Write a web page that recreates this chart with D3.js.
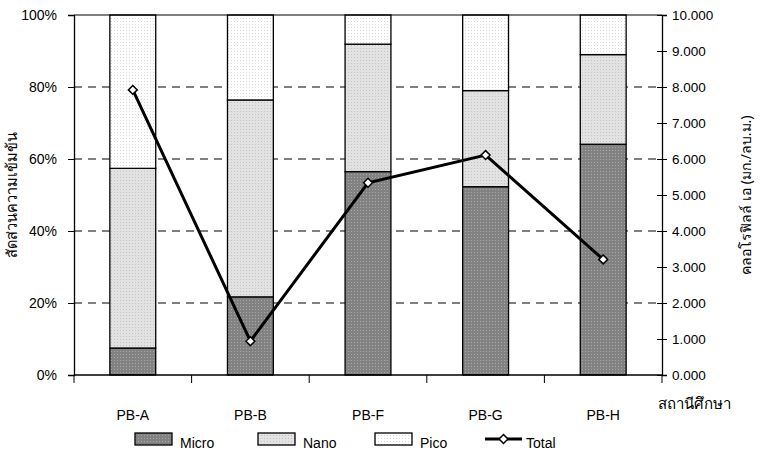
<!DOCTYPE html>
<html><head><meta charset="utf-8">
<script src="https://cdn.jsdelivr.net/npm/d3@7"></script>
<style>
body{margin:0;background:#fff;}
svg{display:block;font-family:"Liberation Sans",Arial,sans-serif;}
</style></head>
<body><svg id="c" width="761" height="454"></svg>
<script>
const categories = ["PB-A","PB-B","PB-F","PB-G","PB-H"];
const micro = [7.5, 21.7, 56.5, 52.3, 64.1];
const nano  = [49.9, 54.7, 35.4, 26.7, 24.9];
const pico  = [42.6, 23.6, 8.1, 21.0, 11.0];
const total = [7.92, 0.94, 5.34, 6.11, 3.21];
const leftTicks = [0,20,40,60,80,100];
const rightTicks = [0,1,2,3,4,5,6,7,8,9,10];
const seriesNames = ["Micro","Nano","Pico"];

const svg = d3.select("#c");
const L=74, R=662, T=15, B=375;
const FONT = "Liberation Sans, Arial, sans-serif";

const defs = svg.append("defs");
function pat(id, base, dot){
  const p = defs.append("pattern").attr("id",id).attr("patternUnits","userSpaceOnUse").attr("width",3).attr("height",3);
  p.append("rect").attr("width",3).attr("height",3).attr("fill",base);
  p.append("rect").attr("width",1).attr("height",1).attr("fill",dot);
  return "url(#"+id+")";
}
const fills = {
  Micro: pat("pm","#828282","#a8a8a8"),
  Nano: pat("pn","#e2e2e2","#c4c4c4"),
  Pico: pat("pp","#ffffff","#d8d8d8")
};

const x = d3.scaleBand().domain(categories).range([L,R]).paddingInner(0.61).paddingOuter(0.305);
const y = d3.scaleLinear().domain([0,100]).range([B,T]);
const y2 = d3.scaleLinear().domain([0,10]).range([B,T]);

// gridlines
svg.append("g").selectAll("line").data(leftTicks.filter(d=>d>0&&d<100)).join("line")
  .attr("x1",L).attr("x2",R).attr("y1",d=>y(d)).attr("y2",d=>y(d))
  .attr("stroke","#000").attr("stroke-width",1).attr("stroke-dasharray","8,6");

// stacked bars
const rows = categories.map((c,i)=>({cat:c, Micro:micro[i], Nano:nano[i], Pico:pico[i]}));
const stack = d3.stack().keys(seriesNames)(rows);
svg.append("g").selectAll("g").data(stack).join("g")
  .attr("fill",d=>fills[d.key])
  .selectAll("rect").data(d=>d).join("rect")
  .attr("x",d=>x(d.data.cat)).attr("width",x.bandwidth())
  .attr("y",d=>y(Math.min(100,d[1]))).attr("height",d=>y(d[0])-y(Math.min(100,d[1])))
  .attr("stroke","#000").attr("stroke-width",1.3);

// frame top
svg.append("line").attr("x1",L).attr("x2",R).attr("y1",T).attr("y2",T).attr("stroke","#000").attr("stroke-width",1.2);

// left axis
const ax = d3.axisLeft(y).tickValues(leftTicks).tickFormat(d=>d+"%").tickSize(6).tickPadding(11);
const gl = svg.append("g").attr("transform",`translate(${L},0)`).call(ax);
gl.select(".domain").attr("stroke-width",1.3);
gl.selectAll("text").attr("font-size",14).attr("fill","#000").attr("font-family",FONT);

// right axis
const ar = d3.axisRight(y2).tickValues(rightTicks).tickFormat(d3.format(".3f")).tickSize(5).tickPadding(5);
const gr = svg.append("g").attr("transform",`translate(${R},0)`).call(ar);
gr.select(".domain").attr("stroke-width",1.3);
gr.selectAll(".tick line").attr("x1",-5);
gr.selectAll("text").attr("font-size",13.5).attr("fill","#000").attr("font-family",FONT);

// bottom axis
svg.append("line").attr("x1",L).attr("x2",R).attr("y1",B).attr("y2",B).attr("stroke","#000").attr("stroke-width",1.5);
const step = x.step();
svg.append("g").selectAll("line").data(d3.range(categories.length+1)).join("line")
  .attr("x1",d=>L+d*step).attr("x2",d=>L+d*step).attr("y1",B).attr("y2",B+8)
  .attr("stroke","#000").attr("stroke-width",1);
svg.append("g").selectAll("text").data(categories).join("text")
  .attr("x",d=>x(d)+x.bandwidth()/2).attr("y",420).attr("text-anchor","middle")
  .attr("font-size",14).text(d=>d);
svg.append("text").attr("x",658).attr("y",409).attr("font-size",15)
  .attr("font-family","Noto Sans, sans-serif").text("สถานีศึกษา");

// total line
const line = d3.line().x((d,i)=>x(categories[i])+x.bandwidth()/2).y(d=>y2(d));
svg.append("path").datum(total).attr("d",line).attr("fill","none").attr("stroke","#000").attr("stroke-width",3).attr("stroke-linejoin","miter");
const sym = d3.symbol().type(d3.symbolDiamond2).size(50);
svg.append("g").selectAll("path").data(total).join("path")
  .attr("transform",(d,i)=>`translate(${x(categories[i])+x.bandwidth()/2},${y2(d)})`)
  .attr("d",sym).attr("fill","#fff").attr("stroke","#000").attr("stroke-width",1.5);

// axis titles
svg.append("text").attr("transform","translate(17,195) rotate(-90)").attr("text-anchor","middle")
  .attr("font-size",14.5).attr("font-family","Noto Sans, sans-serif").text("สัดส่วนความเข้มข้น");
svg.append("text").attr("transform","translate(751,195) rotate(-90)").attr("text-anchor","middle")
  .attr("font-size",14).attr("font-family","Noto Sans, sans-serif").text("คลอโรฟิลล์ เอ (มก./ลบ.ม.)");

// legend
const leg = svg.append("g");
const items = [{k:"Micro",x:135},{k:"Nano",x:258},{k:"Pico",x:375}];
items.forEach(it=>{
  leg.append("rect").attr("x",it.x).attr("y",433).attr("width",37).attr("height",12)
    .attr("fill",fills[it.k]).attr("stroke","#000").attr("stroke-width",1.3);
  leg.append("text").attr("x",it.x+45).attr("y",448).attr("font-size",14).text(it.k);
});
leg.append("line").attr("x1",485).attr("x2",522).attr("y1",439).attr("y2",439).attr("stroke","#000").attr("stroke-width",3);
leg.append("path").attr("transform","translate(503.5,439)").attr("d",sym).attr("fill","#fff").attr("stroke","#000").attr("stroke-width",1.5);
leg.append("text").attr("x",526).attr("y",448).attr("font-size",14).text("Total");
</script></body></html>
